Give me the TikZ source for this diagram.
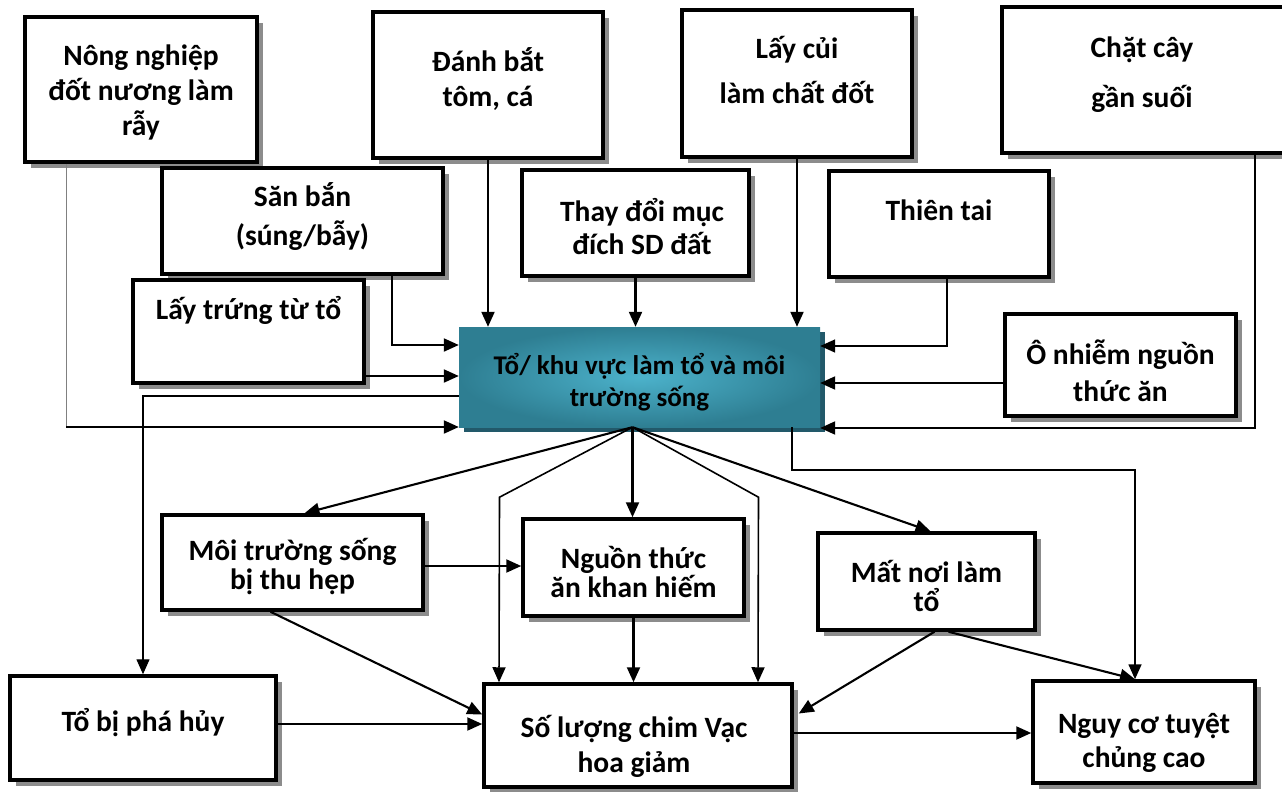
\documentclass[tikz,border=0pt]{standalone}
\usepackage{fontspec}
\setmainfont{Carlito}
\usetikzlibrary{arrows.meta,shadows,positioning}
\definecolor{shadowgray}{HTML}{8C8C8C}
\definecolor{tealin}{HTML}{4CB2CB}
\definecolor{tealout}{HTML}{2E7E92}
\definecolor{tealshadow}{HTML}{22596A}

\begin{document}
\begin{tikzpicture}[x=1pt,y=-1pt,
  box/.style={draw=black, line width=3.5pt, fill=white, inner sep=0pt,
    drop shadow={shadow xshift=6pt, shadow yshift=-6pt, fill=shadowgray, opacity=1}},
  hubbox/.style={inner sep=0pt, inner color=tealin, outer color=tealout,
    drop shadow={shadow xshift=5pt, shadow yshift=-5pt, fill=tealshadow, opacity=1}},
  txt/.style={font=\fontsize{29.5}{35}\selectfont\bfseries, align=center, inner sep=0pt},
  arr/.style={line width=2.1pt, -{Triangle[length=15pt,width=13pt]}},
  thinarr/.style={line width=1.4pt, -{Triangle[length=15pt,width=13pt]}},
]
\useasboundingbox (0,0) rectangle (1282,792);

% Top row: causes
\node[box, minimum width=232pt, minimum height=145pt] (nong) at (141,89.5) {};
\node[txt] (nong-t) at (141,92.5) {Nông nghiệp\\đốt nương làm\\rẫy};
\node[box, minimum width=230pt, minimum height=146pt] (danh) at (488,85) {};
\node[txt] (danh-t) at (488,79) {Đánh bắt\\tôm, cá};
\node[box, minimum width=230pt, minimum height=147pt] (cui) at (797,83.5) {};
\node[txt, font=\fontsize{29.5}{45}\selectfont\bfseries] (cui-t) at (797,70) {Lấy củi\\làm chất đốt};
\node[box, minimum width=288pt, minimum height=146pt] (chat) at (1146,80) {};
\node[txt, font=\fontsize{29.5}{50}\selectfont\bfseries] (chat-t) at (1142,75) {Chặt cây\\gần suối};

% Second row
\node[box, minimum width=281pt, minimum height=106pt] (san) at (302.5,221) {};
\node[txt, font=\fontsize{29.5}{39}\selectfont\bfseries] (san-t) at (302.5,217) {Săn bắn\\(súng/bẫy)};
\node[box, minimum width=227pt, minimum height=106pt] (thay) at (635.5,223) {};
\node[txt, font=\fontsize{29.5}{33}\selectfont\bfseries] (thay-t) at (642,227) {Thay đổi mục\\đích SD đất};
\node[box, minimum width=220pt, minimum height=106pt] (thien) at (939,224) {};
\node[txt] (thien-t) at (939,210) {Thiên tai};
\node[box, minimum width=231pt, minimum height=103pt] (trung) at (248.5,331.5) {};
\node[txt] (trung-t) at (248.5,310) {Lấy trứng từ tổ};

% Centre: nest and habitat
\node[hubbox, minimum width=361pt, minimum height=100pt] (to) at (639.5,377) {};
\node[txt, font=\fontsize{27}{32}\selectfont\bfseries] (to-t) at (639.5,382) {Tổ/ khu vực làm tổ và môi\\trường sống};
\node[box, minimum width=231pt, minimum height=102pt] (onhiem) at (1120.5,365) {};
\node[txt, font=\fontsize{29.5}{37}\selectfont\bfseries] (onhiem-t) at (1120.5,371) {Ô nhiễm nguồn\\thức ăn};

% Effects
\node[box, minimum width=261pt, minimum height=95pt] (moi) at (292.5,562.5) {};
\node[txt, font=\fontsize{29.5}{29}\selectfont\bfseries] (moi-t) at (292.5,567) {Môi trường sống\\bị thu hẹp};
\node[box, minimum width=221pt, minimum height=97pt] (nguon) at (633.5,567.5) {};
\node[txt, font=\fontsize{29.5}{29}\selectfont\bfseries] (nguon-t) at (633.5,572) {Nguồn thức\\ăn khan hiếm};
\node[box, minimum width=217pt, minimum height=97pt] (mat) at (926.5,581.5) {};
\node[txt, font=\fontsize{29.5}{29}\selectfont\bfseries] (mat-t) at (926.5,586) {Mất nơi làm\\tổ};
\node[box, minimum width=266pt, minimum height=104pt] (pha) at (143,728) {};
\node[txt] (pha-t) at (143,723) {Tổ bị phá hủy};
\node[box, minimum width=308pt, minimum height=103pt] (soluong) at (638,735.5) {};
\node[txt] (soluong-t) at (634,746) {Số lượng chim Vạc\\hoa giảm};
\node[box, minimum width=222pt, minimum height=102pt] (nguy) at (1144,732) {};
\node[txt, font=\fontsize{29.5}{34}\selectfont\bfseries] (nguy-t) at (1144,743) {Nguy cơ tuyệt\\chủng cao};

% Causes into the centre
\coordinate (nongcorner) at ([xshift=-75pt]nong.south |- 0,427);
\draw[draw=gray, line width=1pt] ([xshift=-75pt]nong.south) -- (nongcorner);
\draw[arr] (nongcorner) -- (nongcorner -| to.west);
\draw[arr] ([xshift=89.5pt]san.south) |- ([yshift=32pt]to.west);
\draw[arr] ([yshift=-44.5pt]trung.east) -- ([yshift=-44.5pt]trung.east -| to.west);
\draw[arr] (danh.south) -- (danh.south |- to.north);
\draw[arr] (thay.south) -- (thay.south |- to.north);
\draw[arr] (cui.south) -- (cui.south |- to.north);
\draw[thinarr, line width=1.6pt] ([xshift=8pt]thien.south) |- ([yshift=31pt]to.east);
\draw[arr] ([yshift=-18pt]onhiem.west) -- ([yshift=-18pt]onhiem.west -| to.east);
\draw[arr] ([xshift=109pt]chat.south) |- ([yshift=-51pt]to.east);

% Centre to effects
\coordinate (hub) at ([xshift=-7pt]to.south);
\draw[thinarr] ([yshift=-19pt]to.west) -| (pha.north);
\draw[arr] (hub) -- ([xshift=12pt]moi.north);
\draw[arr] (hub) -- (hub |- nguon.north);
\draw[arr] (hub) -- ([xshift=4pt]mat.north);
\draw[thinarr, line width=1.6pt] (hub) -- ++(-133,70) -- ([xshift=-139pt]soluong.north);
\draw[thinarr, line width=1.6pt] (hub) -- ++(126,70) -- ([xshift=120pt]soluong.north);
\draw[thinarr, line width=1.6pt] ([xshift=152.5pt]to.south) -- ++(0,43) -| ([xshift=-9pt]nguy.north);

% Between effects
\draw[arr] ([yshift=-3.5pt]moi.east) -- ([yshift=-3.5pt]moi.east -| nguon.west);
\draw[arr] ([xshift=-22pt]moi.south) -- ([yshift=21pt]soluong.west);
\draw[arr] (nguon.south) -- (nguon.south |- soluong.north);
\draw[arr] ([xshift=8pt]mat.south) -- ([xshift=5pt,yshift=22pt]soluong.east);
\draw[arr] ([xshift=22pt]mat.south) -- ([xshift=-9pt]nguy.north);
\draw[arr] ([yshift=4pt]pha.east) -- ([yshift=4pt]pha.east -| soluong.west);
\draw[arr] ([yshift=2.5pt]soluong.east) -- ([yshift=2.5pt]soluong.east -| nguy.west);
\end{tikzpicture}
\end{document}
